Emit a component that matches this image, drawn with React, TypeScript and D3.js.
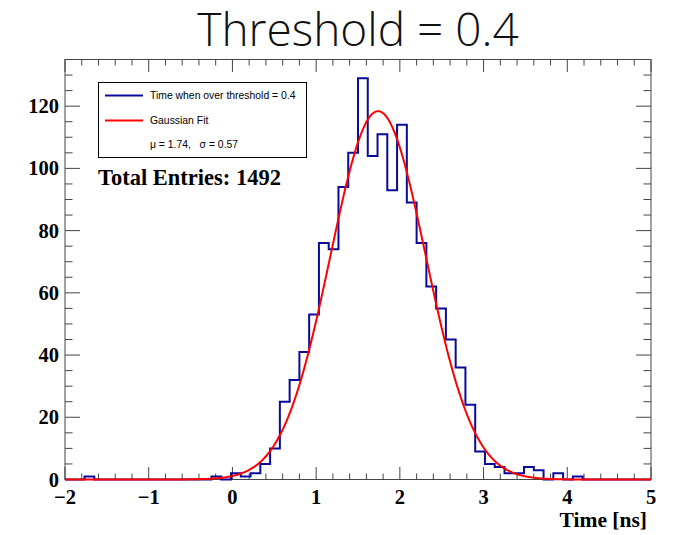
import React from "react";
import * as d3 from "d3";

// Histogram: 60 bins between -2 and 5 ns
const binLow = -2;
const binHigh = 5;
const counts = [
  0, 0, 1, 0, 0, 0, 0, 0, 0, 0,
  0, 0, 0, 0, 0, 1, 0, 2, 1, 2,
  5, 10, 25, 32, 41, 53, 76, 74, 94, 105,
  129, 104, 111, 93, 114, 89, 76, 62, 55, 45,
  36, 24, 9, 5, 4, 2, 2, 4, 3, 0,
  2, 0, 1, 0, 0, 0, 0, 0, 0, 0,
];

// Gaussian fit parameters
const fitMean = 1.74;
const fitSigma = 0.57;
const fitConstant = 118.4;

const xTicks = [-2, -1, 0, 1, 2, 3, 4, 5];
const yTicks = [0, 20, 40, 60, 80, 100, 120];
const totalEntries = 1492;

const W = 677;
const H = 535;
const frame = { left: 65, right: 651, top: 59.5, bottom: 479.5 };

export default function App() {
  const x = d3.scaleLinear().domain([binLow, binHigh]).range([frame.left, frame.right]);
  const y = d3.scaleLinear().domain([0, 135]).range([frame.bottom, frame.top]);

  const nBins = counts.length;
  const bw = (binHigh - binLow) / nBins;

  // Step outline of the histogram
  let hist = `M${x(binLow)},${y(0)}`;
  counts.forEach((c, i) => {
    const x0 = x(binLow + i * bw);
    const x1 = x(binLow + (i + 1) * bw);
    hist += `L${x0},${y(c)}L${x1},${y(c)}`;
  });
  hist += `L${x(binHigh)},${y(0)}`;

  const gaus = (t: number) =>
    fitConstant * Math.exp(-0.5 * ((t - fitMean) / fitSigma) ** 2);
  const fitPts = d3.range(0, 701).map((i) => binLow + (i * (binHigh - binLow)) / 700);
  const fitLine = d3
    .line<number>()
    .x((t) => x(t))
    .y((t) => y(gaus(t)))(fitPts);

  const xMinor = d3.range(-2, 5.0001, 0.2).map((v) => Math.round(v * 10) / 10);
  const yMinor = d3.range(0, 135.0001, 5);

  const serif = "'Liberation Serif', 'Times New Roman', serif";
  const sans = "'Liberation Sans', Arial, sans-serif";
  const axisColor = "#444";

  return (
    <svg width={W} height={H} style={{ display: "block", position: "absolute", left: 0, top: 0 }}>
      <rect width={W} height={H} fill="#fff" />
      <text
        x={358}
        y={46}
        textAnchor="middle"
        fontFamily="'Open Sans', 'Noto Sans', sans-serif"
        fontWeight={300}
        fontSize={46}
        fill="#111"
      >
        Threshold = 0.4
      </text>

      {/* frame */}
      <rect
        x={frame.left}
        y={frame.top}
        width={frame.right - frame.left}
        height={frame.bottom - frame.top}
        fill="none"
        stroke={axisColor}
        strokeWidth={1}
      />

      {/* x ticks, bottom and top */}
      {xMinor.map((v) => {
        const major = Number.isInteger(v);
        const len = major ? 12.5 : 6;
        return (
          <g key={`xt${v}`} stroke={axisColor} strokeWidth={1}>
            <line x1={x(v)} x2={x(v)} y1={frame.bottom} y2={frame.bottom - len} />
            <line x1={x(v)} x2={x(v)} y1={frame.top} y2={frame.top + len} />
          </g>
        );
      })}
      {/* y ticks, left and right */}
      {yMinor.map((v) => {
        const major = v % 20 === 0;
        const len = major ? 15 : 7.5;
        return (
          <g key={`yt${v}`} stroke={axisColor} strokeWidth={1}>
            <line x1={frame.left} x2={frame.left + len} y1={y(v)} y2={y(v)} />
            <line x1={frame.right} x2={frame.right - len} y1={y(v)} y2={y(v)} />
          </g>
        );
      })}

      {xTicks.map((v) => (
        <text
          key={`xl${v}`}
          x={x(v)}
          y={504}
          textAnchor="middle"
          fontFamily={serif}
          fontWeight="bold"
          fontSize={20.5}
          fill="#000"
        >
          {v < 0 ? `\u2212${Math.abs(v)}` : v}
        </text>
      ))}
      {yTicks.map((v) => (
        <text
          key={`yl${v}`}
          x={59}
          y={y(v) + 7}
          textAnchor="end"
          fontFamily={serif}
          fontWeight="bold"
          fontSize={20.5}
          fill="#000"
        >
          {v}
        </text>
      ))}

      <text
        x={647}
        y={527}
        textAnchor="end"
        fontFamily={serif}
        fontWeight="bold"
        fontSize={21.5}
        fill="#000"
      >
        Time [ns]
      </text>

      <path d={hist} fill="none" stroke="#0a0a9a" strokeWidth={2} />
      <path d={fitLine ?? ""} fill="none" stroke="#ff0000" strokeWidth={2} />

      {/* legend */}
      <rect x={98.5} y={82.5} width={208} height={75} fill="#fff" stroke="#000" strokeWidth={1} />
      <line x1={105} x2={143} y1={95.5} y2={95.5} stroke="#0a0a9a" strokeWidth={2} />
      <text x={150} y={99} fontFamily={sans} fontSize={10.4} fill="#000">
        Time when over threshold = 0.4
      </text>
      <line x1={105} x2={143} y1={120.5} y2={120.5} stroke="#ff0000" strokeWidth={2} />
      <text x={150} y={124} fontFamily={sans} fontSize={10.4} fill="#000">
        Gaussian Fit
      </text>
      <text x={150} y={148} fontFamily={sans} fontSize={10.4} fill="#000" xmlSpace="preserve">
        {`\u03bc = ${fitMean},   \u03c3 = ${fitSigma}`}
      </text>

      <text x={98} y={185} fontFamily={serif} fontWeight="bold" fontSize={22.5} fill="#000">
        {`Total Entries: ${totalEntries}`}
      </text>
    </svg>
  );
}
